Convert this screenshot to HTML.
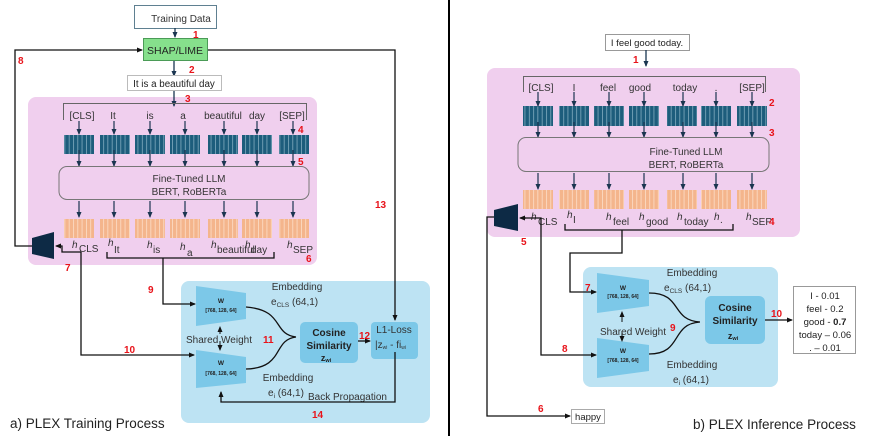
<!DOCTYPE html>
<html><head><meta charset="utf-8"><style>
html,body{margin:0;padding:0;background:#fff}
svg{display:block;font-family:"Liberation Sans",sans-serif}
.r{fill:#e8131a;font-weight:bold;font-size:10px}
.t{font-size:10px;fill:#333}
</style></head><body>
<svg width="871" height="436" viewBox="0 0 871 436" xmlns="http://www.w3.org/2000/svg">
<defs>
<marker id="a" markerWidth="6" markerHeight="6" refX="5" refY="3" orient="auto" markerUnits="userSpaceOnUse"><path d="M0,0.5 L6,3 L0,5.5 z" fill="#111"/></marker>
<marker id="a2" markerWidth="6" markerHeight="6" refX="5" refY="3" orient="auto" markerUnits="userSpaceOnUse"><path d="M0,0.5 L6,3 L0,5.5 z" fill="#1a3550"/></marker>
<pattern id="teal" width="4.3" height="40" patternUnits="userSpaceOnUse"><rect width="4.3" height="40" fill="#1d5d7c"/><rect width="0.7" height="40" fill="#8fb6c8"/></pattern>
<pattern id="org" width="4.3" height="40" patternUnits="userSpaceOnUse"><rect width="4.3" height="40" fill="#f4b58c"/><rect width="0.7" height="40" fill="#fde3d0"/></pattern>
</defs>

<line x1="449" y1="0" x2="449" y2="436" stroke="#000" stroke-width="2"/>

<!-- ===== LEFT ===== -->
<rect x="28" y="97" width="289" height="168" rx="8" fill="#f0cfee"/>
<rect x="181" y="281" width="249" height="142" rx="8" fill="#bde3f3"/>

<rect x="134.5" y="5.5" width="82" height="23" fill="#fff" stroke="#5f8091"/>
<text x="181" y="22" text-anchor="middle" class="t" font-size="10.5">Training Data</text>
<line x1="175" y1="28" x2="175" y2="37" stroke="#1a3550" stroke-width="1.3" marker-end="url(#a2)"/>
<text x="193" y="38" class="r">1</text>
<rect x="143.5" y="38.5" width="64" height="22" fill="#86e08c" stroke="#4b9b57"/>
<text x="175" y="54" text-anchor="middle" font-size="10.5" fill="#222">SHAP/LIME</text>
<line x1="174" y1="61" x2="174" y2="76" stroke="#1a3550" stroke-width="1.3" marker-end="url(#a2)"/>
<text x="189" y="73" class="r">2</text>
<rect x="127.5" y="75.5" width="94" height="15" fill="#fff" stroke="#bbb"/>
<text x="174" y="87" text-anchor="middle" font-size="9.8" fill="#222">It is a beautiful day</text>
<line x1="174" y1="91" x2="174" y2="106" stroke="#1a3550" stroke-width="1.3" marker-end="url(#a2)"/>
<text x="185" y="102" class="r">3</text>
<path d="M63.5,120 V103.5 H306.5 V120" fill="none" stroke="#666"/>
<g class="t" text-anchor="middle" font-size="10">
<text x="82" y="119">[CLS]</text><text x="113" y="119">It</text><text x="150" y="119">is</text><text x="183" y="119">a</text><text x="223" y="119">beautiful</text><text x="257" y="119">day</text><text x="292" y="119">[SEP]</text>
</g>
<g fill="url(#teal)">
<rect x="64" y="135" width="30" height="19"/><rect x="100" y="135" width="30" height="19"/><rect x="135" y="135" width="30" height="19"/><rect x="170" y="135" width="30" height="19"/><rect x="208" y="135" width="30" height="19"/><rect x="242" y="135" width="30" height="19"/><rect x="279" y="135" width="30" height="19"/>
</g>
<g stroke="#1a3550" stroke-width="1.2" marker-end="url(#a2)">
<line x1="79" y1="121" x2="79" y2="134"/><line x1="114" y1="121" x2="114" y2="134"/><line x1="150" y1="121" x2="150" y2="134"/><line x1="185" y1="121" x2="185" y2="134"/><line x1="224" y1="121" x2="224" y2="134"/><line x1="257" y1="121" x2="257" y2="134"/><line x1="293" y1="121" x2="293" y2="134"/>
<line x1="79" y1="150" x2="79" y2="166"/><line x1="114" y1="150" x2="114" y2="166"/><line x1="150" y1="150" x2="150" y2="166"/><line x1="185" y1="150" x2="185" y2="166"/><line x1="224" y1="150" x2="224" y2="166"/><line x1="257" y1="150" x2="257" y2="166"/><line x1="293" y1="150" x2="293" y2="166"/>
<line x1="79" y1="201" x2="79" y2="217"/><line x1="114" y1="201" x2="114" y2="217"/><line x1="150" y1="201" x2="150" y2="217"/><line x1="185" y1="201" x2="185" y2="217"/><line x1="224" y1="201" x2="224" y2="217"/><line x1="257" y1="201" x2="257" y2="217"/><line x1="293" y1="201" x2="293" y2="217"/>
</g>
<text x="298" y="133" class="r">4</text><text x="298" y="165" class="r">5</text>
<rect x="59" y="166.5" width="250" height="33" rx="8" fill="#f0cfee" stroke="#777"/>
<text x="189" y="182" text-anchor="middle" class="t" font-size="10.5">Fine-Tuned LLM</text>
<text x="189" y="195" text-anchor="middle" class="t" font-size="10.5">BERT, RoBERTa</text>
<g fill="url(#org)">
<rect x="64" y="219" width="30" height="19"/><rect x="100" y="219" width="30" height="19"/><rect x="135" y="219" width="30" height="19"/><rect x="170" y="219" width="30" height="19"/><rect x="208" y="219" width="30" height="19"/><rect x="242" y="219" width="30" height="19"/><rect x="279" y="219" width="30" height="19"/>
</g>
<g class="t" font-size="10.5" font-style="italic">
<text x="72" y="248">h</text><text x="108" y="246">h</text><text x="147" y="248">h</text><text x="180" y="250">h</text><text x="211" y="248">h</text><text x="245" y="248">h</text><text x="287" y="248">h</text>
</g>
<g class="t" font-size="6.5">
<text x="79" y="252">CLS</text><text x="114" y="253">It</text><text x="153" y="253">is</text><text x="187" y="256">a</text><text x="217" y="253">beautiful</text><text x="251" y="253">day</text><text x="293" y="253">SEP</text>
</g>
<text x="306" y="262" class="r">6</text>
<path d="M107,252 V258 H274 V252 M163,258 V265" fill="none" stroke="#111" stroke-width="1.3"/>
<polygon points="32,238 54,232 54,259 32,254" fill="#0d2a45"/>
<path d="M32,246 H15 V50 H142" fill="none" stroke="#111" stroke-width="1.3" marker-end="url(#a)"/>
<text x="18" y="64" class="r">8</text>
<path d="M208,50 H395 V320" fill="none" stroke="#111" stroke-width="1.3" marker-end="url(#a)"/>
<text x="375" y="208" class="r">13</text>
<path d="M81,252 H62 V246 H56" fill="none" stroke="#111" stroke-width="1.3" marker-end="url(#a)"/>
<path d="M81,252 V355 H194" fill="none" stroke="#111" stroke-width="1.3" marker-end="url(#a)"/>
<text x="65" y="271" class="r">7</text>
<text x="124" y="353" class="r">10</text>
<path d="M163,265 V304 H195" fill="none" stroke="#111" stroke-width="1.3" marker-end="url(#a)"/>
<text x="148" y="293" class="r">9</text>
<polygon points="196,286 246,293 246,319 196,326" fill="#7cc8e8"/>
<text x="221" y="303" text-anchor="middle" font-size="6.5" font-weight="bold" fill="#222">W</text>
<text x="221" y="312" text-anchor="middle" font-size="5" font-weight="bold" fill="#222">[768, 128, 64]</text>
<polygon points="196,350 246,357 246,383 196,388" fill="#7cc8e8"/>
<text x="221" y="365" text-anchor="middle" font-size="6.5" font-weight="bold" fill="#222">W</text>
<text x="221" y="375" text-anchor="middle" font-size="5" font-weight="bold" fill="#222">[768, 128, 64]</text>
<line x1="220" y1="334" x2="220" y2="327" stroke="#111" marker-end="url(#a)"/>
<line x1="220" y1="341" x2="220" y2="350" stroke="#111" marker-end="url(#a)"/>
<text x="219" y="343" text-anchor="middle" class="t">Shared Weight</text>
<text x="263" y="343" class="r">11</text>
<text x="297" y="290" text-anchor="middle" class="t">Embedding</text>
<text x="271" y="305" class="t">e<tspan font-size="6.5" dy="2">CLS</tspan><tspan dy="-2"> (64,1)</tspan></text>
<text x="288" y="381" text-anchor="middle" class="t">Embedding</text>
<text x="268" y="396" class="t">e<tspan font-size="6.5" dy="2">i</tspan><tspan dy="-2"> (64,1)</tspan></text>
<text x="308" y="400" class="t">Back Propagation</text>
<path d="M246,307 C285,310 272,334 296,337 M246,369 C285,368 272,340 296,337" fill="none" stroke="#111" stroke-width="1.3"/>
<rect x="300" y="322" width="58" height="41" rx="5" fill="#7cc8e8"/>
<text x="329" y="336" text-anchor="middle" font-size="10" font-weight="bold" fill="#222">Cosine</text>
<text x="329" y="349" text-anchor="middle" font-size="10" font-weight="bold" fill="#222">Similarity</text>
<text x="326" y="361" text-anchor="middle" font-size="9" font-weight="bold" fill="#222">z<tspan font-size="5.5" dy="1">wi</tspan></text>
<line x1="358" y1="341" x2="370" y2="341" stroke="#111" stroke-width="1.3" marker-end="url(#a)"/>
<text x="359" y="339" class="r">12</text>
<rect x="371" y="322" width="47" height="37" rx="4" fill="#7cc8e8"/>
<text x="394" y="333" text-anchor="middle" class="t" font-size="9">L1-Loss</text>
<text x="375" y="348" class="t" font-size="9">|z<tspan font-size="5" dy="1">wi</tspan><tspan dy="-1"> - fi</tspan><tspan font-size="5" dy="1">wi</tspan></text>
<path d="M395,352 V402 H221 V392" fill="none" stroke="#111" stroke-width="1.3" marker-end="url(#a)"/>
<text x="312" y="418" class="r">14</text>
<text x="10" y="428" font-size="13.5" fill="#222">a) PLEX Training Process</text>

<!-- ===== RIGHT ===== -->
<rect x="487" y="68" width="313" height="169" rx="8" fill="#f0cfee"/>
<rect x="583" y="267" width="195" height="120" rx="8" fill="#bde3f3"/>

<rect x="605.5" y="34.5" width="84" height="16" fill="#fff" stroke="#999"/>
<text x="647" y="46" text-anchor="middle" font-size="9.5" fill="#222">I feel good today.</text>
<line x1="646" y1="50" x2="646" y2="66" stroke="#1a3550" stroke-width="1.3" marker-end="url(#a2)"/>
<text x="633" y="63" class="r">1</text>
<path d="M523.5,92 V76.5 H765.5 V92" fill="none" stroke="#666"/>
<g class="t" text-anchor="middle">
<text x="541" y="91">[CLS]</text><text x="574" y="91">I</text><text x="608" y="91">feel</text><text x="640" y="91">good</text><text x="685" y="91">today</text><text x="716" y="91">.</text><text x="752" y="91">[SEP]</text>
</g>
<g fill="url(#teal)">
<rect x="523" y="106" width="30" height="20"/><rect x="559" y="106" width="30" height="20"/><rect x="594" y="106" width="30" height="20"/><rect x="629" y="106" width="30" height="20"/><rect x="667" y="106" width="30" height="20"/><rect x="701" y="106" width="30" height="20"/><rect x="737" y="106" width="30" height="20"/>
</g>
<g stroke="#1a3550" stroke-width="1.2" marker-end="url(#a2)">
<line x1="538" y1="92" x2="538" y2="106"/><line x1="574" y1="92" x2="574" y2="106"/><line x1="609" y1="92" x2="609" y2="106"/><line x1="644" y1="92" x2="644" y2="106"/><line x1="683" y1="92" x2="683" y2="106"/><line x1="716" y1="92" x2="716" y2="106"/><line x1="752" y1="92" x2="752" y2="106"/>
<line x1="538" y1="122" x2="538" y2="137"/><line x1="574" y1="122" x2="574" y2="137"/><line x1="609" y1="122" x2="609" y2="137"/><line x1="644" y1="122" x2="644" y2="137"/><line x1="683" y1="122" x2="683" y2="137"/><line x1="716" y1="122" x2="716" y2="137"/><line x1="752" y1="122" x2="752" y2="137"/>
<line x1="538" y1="173" x2="538" y2="189"/><line x1="574" y1="173" x2="574" y2="189"/><line x1="609" y1="173" x2="609" y2="189"/><line x1="644" y1="173" x2="644" y2="189"/><line x1="683" y1="173" x2="683" y2="189"/><line x1="716" y1="173" x2="716" y2="189"/><line x1="752" y1="173" x2="752" y2="189"/>
</g>
<text x="769" y="106" class="r">2</text><text x="769" y="136" class="r">3</text>
<rect x="518" y="137.5" width="251" height="34" rx="8" fill="#f0cfee" stroke="#777"/>
<text x="686" y="155" text-anchor="middle" class="t" font-size="10.5">Fine-Tuned LLM</text>
<text x="686" y="168" text-anchor="middle" class="t" font-size="10.5">BERT, RoBERTa</text>
<g fill="url(#org)">
<rect x="523" y="190" width="30" height="19"/><rect x="559" y="190" width="30" height="19"/><rect x="594" y="190" width="30" height="19"/><rect x="629" y="190" width="30" height="19"/><rect x="667" y="190" width="30" height="19"/><rect x="701" y="190" width="30" height="19"/><rect x="737" y="190" width="30" height="19"/>
</g>
<g class="t" font-size="10.5" font-style="italic">
<text x="531" y="220">h</text><text x="567" y="218">h</text><text x="606" y="220">h</text><text x="639" y="220">h</text><text x="677" y="220">h</text><text x="714" y="220">h</text><text x="746" y="220">h</text>
</g>
<g class="t" font-size="6.5">
<text x="538" y="225">CLS</text><text x="573" y="223">I</text><text x="613" y="225">feel</text><text x="646" y="225">good</text><text x="684" y="225">today</text><text x="720" y="223">.</text><text x="752" y="225">SEP</text>
</g>
<text x="769" y="225" class="r">4</text>
<path d="M565,224 V230 H733 V224 M622,230 V253 H570 V292 H596" fill="none" stroke="#111" stroke-width="1.3" marker-end="url(#a)"/>
<polygon points="494,210 518,204 518,231 494,226" fill="#0d2a45"/>
<path d="M494,217 H487 V416 H570" fill="none" stroke="#111" stroke-width="1.3" marker-end="url(#a)"/>
<text x="538" y="412" class="r">6</text>
<rect x="571.5" y="409.5" width="33" height="14" fill="#fff" stroke="#aaa"/>
<text x="588" y="420" text-anchor="middle" font-size="9.5" fill="#222">happy</text>
<path d="M541,224 V218 H524" fill="none" stroke="#111" stroke-width="1.3"/>
<line x1="526" y1="218" x2="520" y2="218" stroke="#111" stroke-width="1.3" marker-end="url(#a)"/>
<path d="M541,224 V355 H596" fill="none" stroke="#111" stroke-width="1.3" marker-end="url(#a)"/>
<text x="521" y="245" class="r">5</text>
<text x="585" y="291" class="r">7</text>
<text x="562" y="352" class="r">8</text>
<polygon points="597,273 649,280 649,306 597,313" fill="#7cc8e8"/>
<text x="623" y="290" text-anchor="middle" font-size="6.5" font-weight="bold" fill="#222">W</text>
<text x="623" y="298" text-anchor="middle" font-size="5" font-weight="bold" fill="#222">[768, 128, 64]</text>
<polygon points="597,338 649,345 649,371 597,378" fill="#7cc8e8"/>
<text x="623" y="353" text-anchor="middle" font-size="6.5" font-weight="bold" fill="#222">W</text>
<text x="623" y="362" text-anchor="middle" font-size="5" font-weight="bold" fill="#222">[768, 128, 64]</text>
<line x1="622" y1="322" x2="622" y2="312" stroke="#111" marker-end="url(#a)"/>
<line x1="622" y1="331" x2="622" y2="341" stroke="#111" marker-end="url(#a)"/>
<text x="633" y="335" text-anchor="middle" class="t">Shared Weight</text>
<text x="670" y="331" class="r">9</text>
<text x="692" y="276" text-anchor="middle" class="t">Embedding</text>
<text x="664" y="291" class="t">e<tspan font-size="6.5" dy="2">CLS</tspan><tspan dy="-2"> (64,1)</tspan></text>
<text x="692" y="368" text-anchor="middle" class="t">Embedding</text>
<text x="673" y="383" class="t">e<tspan font-size="6.5" dy="2">i</tspan><tspan dy="-2"> (64,1)</tspan></text>
<path d="M649,293 C683,293 670,320 700,322 M649,354 C683,354 670,324 700,322" fill="none" stroke="#111" stroke-width="1.3"/>
<rect x="705" y="296" width="60" height="48" rx="6" fill="#7cc8e8"/>
<text x="735" y="311" text-anchor="middle" font-size="10" font-weight="bold" fill="#222">Cosine</text>
<text x="735" y="324" text-anchor="middle" font-size="10" font-weight="bold" fill="#222">Similarity</text>
<text x="733" y="339" text-anchor="middle" font-size="9" font-weight="bold" fill="#222">z<tspan font-size="5.5" dy="1">wi</tspan></text>
<line x1="765" y1="320" x2="792" y2="320" stroke="#111" stroke-width="1.3" marker-end="url(#a)"/>
<text x="771" y="317" class="r">10</text>
<rect x="793.5" y="286.5" width="62" height="67" fill="#fff" stroke="#999"/>
<g text-anchor="middle" font-size="9.5" fill="#222">
<text x="825" y="299">I  - 0.01</text>
<text x="825" y="312">feel  - 0.2</text>
<text x="825" y="325">good  - <tspan font-weight="bold">0.7</tspan></text>
<text x="825" y="338">today – 0.06</text>
<text x="825" y="351">. – 0.01</text>
</g>
<text x="693" y="429" font-size="13.5" fill="#222">b) PLEX Inference Process</text>
</svg>
</body></html>
